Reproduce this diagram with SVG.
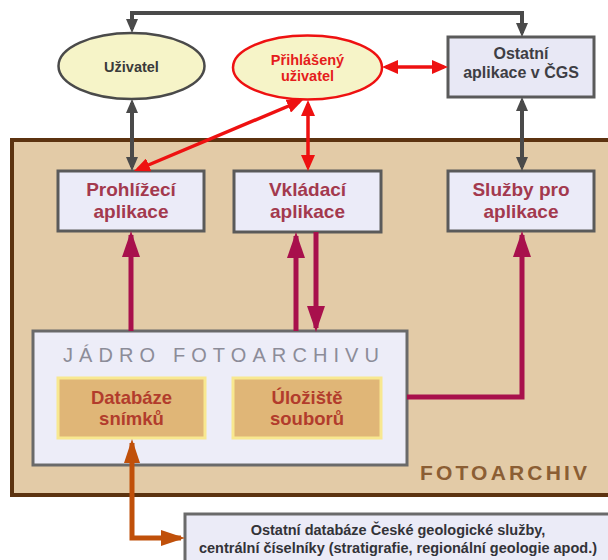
<svg xmlns="http://www.w3.org/2000/svg" width="608" height="560" viewBox="0 0 608 560">
<style>
text{font-family:"Liberation Sans",Arial,sans-serif;font-weight:bold;text-anchor:middle}
.app{fill:#ebebf8;stroke:#5a5a5a;stroke-width:3}
.apptxt{font-size:19px;fill:#a3394e}
.store{fill:#e0b677;stroke:#f8e890;stroke-width:3}
.storetxt{font-size:18.5px;fill:#b23c2c}
.ell{fill:#f6f4c8;stroke-width:2.5}
.gray{stroke:#4a4a4a;stroke-width:4;fill:none}
.red{stroke:#ee1111;stroke-width:3.5;fill:none}
.crim{stroke:#a8104c;stroke-width:5;fill:none}
.orng{stroke:#c0500a;stroke-width:5;fill:none}
</style>
<defs>
<marker id="mg" markerUnits="userSpaceOnUse" markerWidth="14" markerHeight="12" refX="10" refY="6" orient="auto-start-reverse"><path d="M0,0 L14,6 L0,12 z" fill="#4a4a4a"/></marker>
<marker id="mr" markerUnits="userSpaceOnUse" markerWidth="16" markerHeight="14" refX="12" refY="7" orient="auto-start-reverse"><path d="M0,0 L16,7 L0,14 z" fill="#ee1111"/></marker>
<marker id="mc" markerUnits="userSpaceOnUse" markerWidth="26" markerHeight="18" refX="22" refY="9" orient="auto-start-reverse"><path d="M0,0 L26,9 L0,18 z" fill="#a8104c"/></marker>
<marker id="mo" markerUnits="userSpaceOnUse" markerWidth="24" markerHeight="16" refX="20" refY="8" orient="auto-start-reverse"><path d="M0,0 L24,8 L0,16 z" fill="#c0500a"/></marker>
</defs>
<rect width="608" height="560" fill="#ffffff"/>
<g id="fotoarchiv">
<rect x="12" y="140" width="610" height="355" fill="#e3cba7" stroke="#5c3310" stroke-width="4"/>
<text x="503.5" y="480" font-size="21" fill="#8b5e34" textLength="167" lengthAdjust="spacing">FOTOARCHIV</text>
</g>
<g id="jadro">
<rect x="33" y="331" width="374" height="134" fill="#ededf8" stroke="#6a6a6a" stroke-width="3"/>
<text x="221" y="362" font-size="20" style="font-weight:normal" fill="#8c8c98" textLength="316" lengthAdjust="spacing">JÁDRO FOTOARCHIVU</text>
</g>
<g id="uzivatel">
<ellipse class="ell" cx="131.5" cy="66" rx="73" ry="33" stroke="#4a4a4a"/>
<text x="131.5" y="71.5" font-size="14.5" fill="#3a3a3a">Uživatel</text>
</g>
<g id="prihlaseny">
<ellipse class="ell" cx="307.5" cy="67.5" rx="74.5" ry="32" stroke="#ee1111"/>
<text x="307.5" y="65" font-size="14.5" fill="#e51c1c">Přihlášený</text>
<text x="307.5" y="81" font-size="14.5" fill="#e51c1c">uživatel</text>
</g>
<g id="ostatni-aplikace">
<rect class="app" x="448" y="37" width="146" height="60" style="fill:#e8e8f5"/>
<text x="521" y="59" font-size="16" fill="#3e3e44">Ostatní</text>
<text x="521" y="78" font-size="16" fill="#3e3e44">aplikace v ČGS</text>
</g>
<g id="prohlizeci">
<rect class="app" x="58" y="171" width="146" height="60"/>
<text class="apptxt" x="131" y="196">Prohlížecí</text>
<text class="apptxt" x="131" y="218">aplikace</text>
</g>
<g id="vkladaci">
<rect class="app" x="234" y="171" width="147" height="61"/>
<text class="apptxt" x="307.5" y="196">Vkládací</text>
<text class="apptxt" x="307.5" y="218">aplikace</text>
</g>
<g id="sluzby">
<rect class="app" x="448" y="171" width="146" height="60"/>
<text class="apptxt" x="521" y="196">Služby pro</text>
<text class="apptxt" x="521" y="218">aplikace</text>
</g>
<g id="databaze">
<rect class="store" x="58" y="378" width="147" height="60"/>
<text class="storetxt" x="131.5" y="404">Databáze</text>
<text class="storetxt" x="131.5" y="425">snímků</text>
</g>
<g id="uloziste">
<rect class="store" x="233" y="378" width="148" height="60"/>
<text class="storetxt" x="307" y="404">Úložiště</text>
<text class="storetxt" x="307" y="425">souborů</text>
</g>
<g id="ostatni-databaze">
<rect x="185" y="514" width="440" height="60" fill="#ebebf7" stroke="#6a6a6a" stroke-width="3"/>
<text x="398" y="535" font-size="14.5" fill="#333338">Ostatní databáze České geologické služby,</text>
<text x="398" y="553" font-size="14.5" fill="#333338">centrální číselníky (stratigrafie, regionální geologie apod.)</text>
</g>
<g id="connectors">
<path class="gray" d="M132,29 V13 H522 V33" marker-start="url(#mg)" marker-end="url(#mg)"/>
<path class="gray" d="M132,103 V167" marker-start="url(#mg)" marker-end="url(#mg)"/>
<path class="gray" d="M522,101 V167" marker-start="url(#mg)" marker-end="url(#mg)"/>
<path class="red" d="M386,67 H444" marker-start="url(#mr)" marker-end="url(#mr)"/>
<path class="red" d="M308,104 V167" marker-start="url(#mr)" marker-end="url(#mr)"/>
<path class="red" d="M299.3,101.5 L137.7,169.5" marker-start="url(#mr)" marker-end="url(#mr)"/>
<path class="crim" d="M131,331 V235" marker-end="url(#mc)"/>
<path class="crim" d="M296,331 V236" marker-end="url(#mc)"/>
<path class="crim" d="M316,232 V328" marker-end="url(#mc)"/>
<path class="crim" d="M407,397 H522 V235" marker-end="url(#mc)"/>
<path class="orng" d="M132,443 V538 H181" marker-start="url(#mo)" marker-end="url(#mo)"/>
</g>
</svg>
